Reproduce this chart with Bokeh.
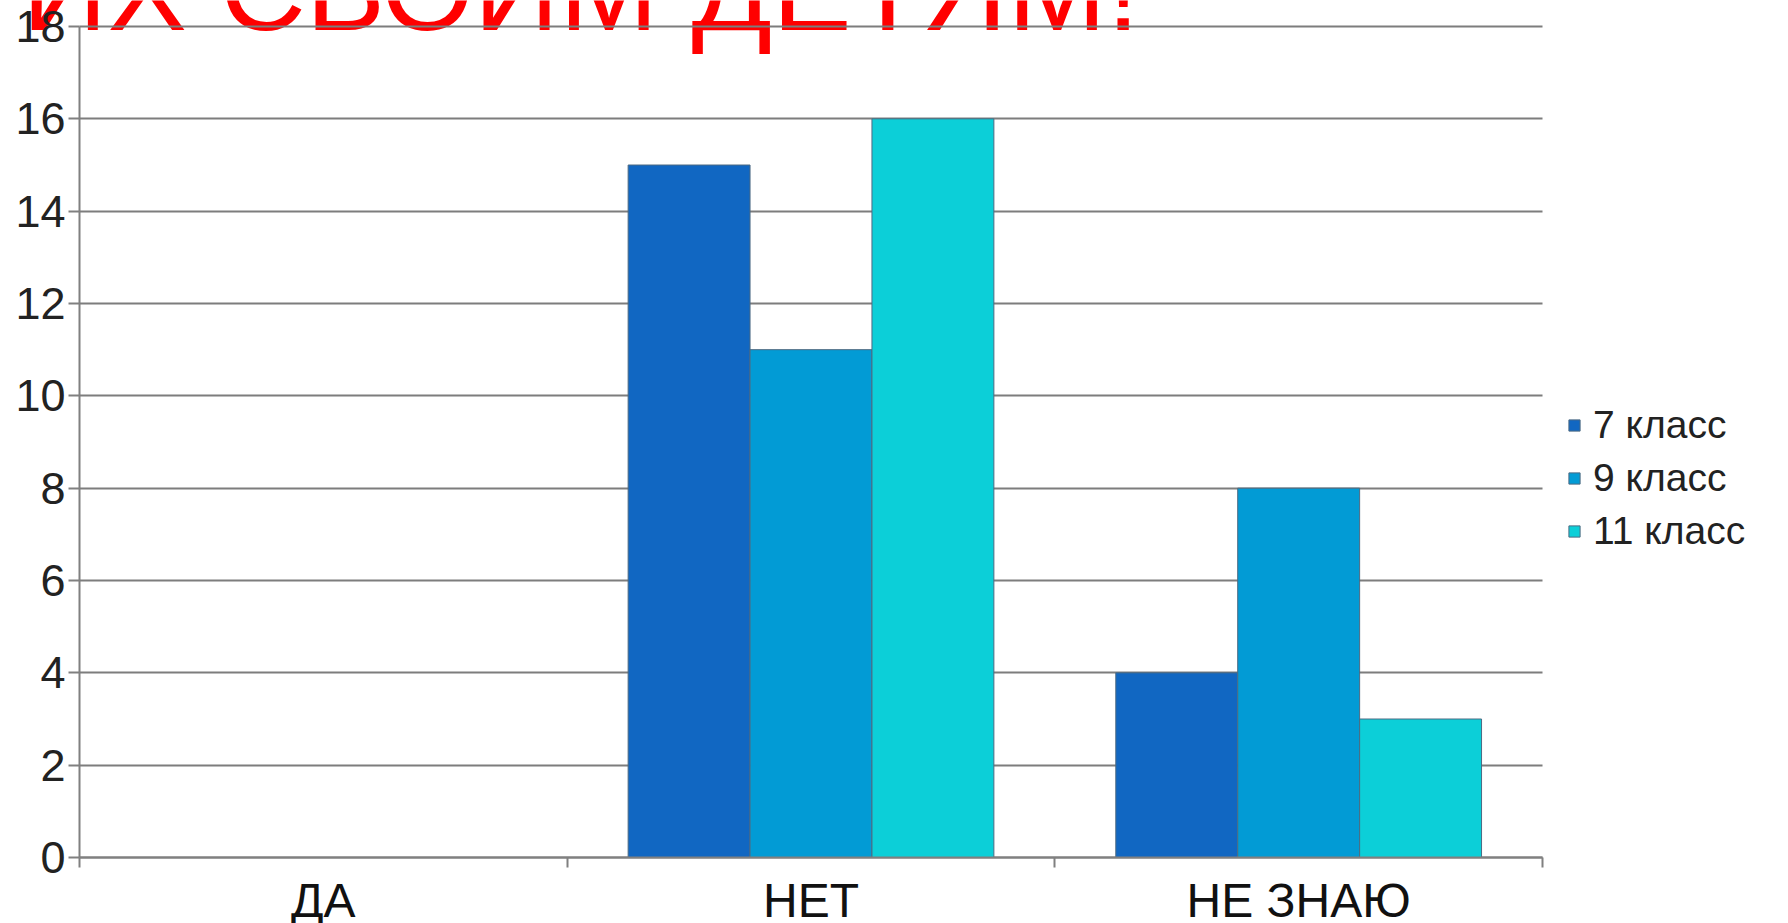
from bokeh.plotting import figure
from bokeh.models import (ColumnDataSource, FixedTicker, Legend, LegendItem,
                          Label, Range1d)
from bokeh.embed import file_html
from bokeh.resources import INLINE

# Survey answers per grade
categories = ["ДА", "НЕТ", "НЕ ЗНАЮ"]
series_names = ["7 класс", "9 класс", "11 класс"]
grade7 = [0, 15, 4]
grade9 = [0, 11, 8]
grade11 = [0, 16, 3]
y_ticks = [0, 2, 4, 6, 8, 10, 12, 14, 16, 18]
heading = "ИХ СВОИМ ДЕТЯМ!"

colors = ["#1167C2", "#029BD5", "#0CCFD8"]
FONT = "Liberation Sans"
AXIS_GRAY = "#808080"

W, H = 1788, 923
# pixel placement of the value area inside the canvas
left_px, right_px, top_px, bottom_px = 79, 1542, 26, 857
n_cat = len(categories)
y_max = y_ticks[-1]
px_x = (right_px - left_px) / n_cat
px_y = (bottom_px - top_px) / y_max

p = figure(width=W, height=H, output_backend="svg", toolbar_location=None,
           x_range=Range1d(-left_px / px_x, (W - left_px) / px_x),
           y_range=Range1d(-(H - bottom_px) / px_y, bottom_px / px_y),
           min_border=0, min_border_left=0, min_border_right=0,
           min_border_top=0, min_border_bottom=0,
           background_fill_color="white", border_fill_color="white",
           outline_line_color=None)

centers = [i + 0.5 for i in range(n_cat)]
bar_w = 0.25
offsets = [-bar_w, 0.0, bar_w]
renderers = []
for vals, off, col in zip([grade7, grade9, grade11], offsets, colors):
    src = ColumnDataSource(dict(x=[c + off for c in centers], top=vals))
    r = p.vbar(x="x", top="top", bottom=0, width=bar_w, source=src,
               fill_color=col, line_color="#4d6a82", line_width=1)
    renderers.append(r)

# y axis pinned at x = 0
yax = p.yaxis[0]
yax.fixed_location = 0
yax.bounds = (0, y_max)
yax.ticker = FixedTicker(ticks=y_ticks)
yax.major_tick_out = 11
yax.major_tick_in = 0
yax.minor_tick_line_color = None
yax.major_label_standoff = 3
yax.major_label_text_font = FONT
yax.major_label_text_font_size = "45px"
yax.major_label_text_color = "#222222"
yax.axis_line_color = AXIS_GRAY
yax.axis_line_width = 2
yax.major_tick_line_color = AXIS_GRAY
yax.major_tick_line_width = 2

# x axis pinned at y = 0: labels at category centres, marks at boundaries
xax = p.xaxis[0]
xax.fixed_location = 0
xax.bounds = (0, n_cat)
xax.ticker = FixedTicker(ticks=centers, minor_ticks=list(range(n_cat + 1)))
xax.major_label_overrides = {c: name for c, name in zip(centers, categories)}
xax.major_tick_line_color = None
xax.major_tick_out = 0
xax.major_tick_in = 0
xax.minor_tick_out = 10
xax.minor_tick_in = 0
xax.minor_tick_line_color = AXIS_GRAY
xax.minor_tick_line_width = 2
xax.axis_line_color = AXIS_GRAY
xax.axis_line_width = 2
xax.major_label_standoff = 6
xax.major_label_text_font = FONT
xax.major_label_text_font_size = "48px"
xax.major_label_text_color = "#111111"

# horizontal grid lines spanning the category area only
p.xgrid.grid_line_color = None
yg = p.ygrid[0]
yg.ticker = FixedTicker(ticks=y_ticks)
if "cross_bounds" in yg.properties():
    yg.cross_bounds = (0, n_cat)
    yg.grid_line_color = "#7d7d7d"
    yg.grid_line_width = 2
else:
    yg.grid_line_color = None
    p.segment(x0=[0] * len(y_ticks), x1=[n_cat] * len(y_ticks), y0=y_ticks,
              y1=y_ticks, line_color="#7d7d7d", line_width=2, level="underlay")

# heading text running off the top edge
title = Label(x=-0.118, y=18.83, text=heading, text_font=FONT,
              text_font_size="119px", text_color="#FF0000",
              text_baseline="alphabetic", text_align="left", level="image")
p.add_layout(title)

legend = Legend(items=[LegendItem(label=n, renderers=[r])
                       for n, r in zip(series_names, renderers)],
                location=(1567, 370), orientation="vertical",
                glyph_width=14, glyph_height=14, label_standoff=12,
                spacing=9, padding=0, margin=0,
                border_line_color=None, background_fill_alpha=0,
                label_text_font=FONT, label_text_font_size="39px",
                label_text_color="#222222")
p.add_layout(legend)

open("out.html", "w").write(file_html(p, INLINE))
